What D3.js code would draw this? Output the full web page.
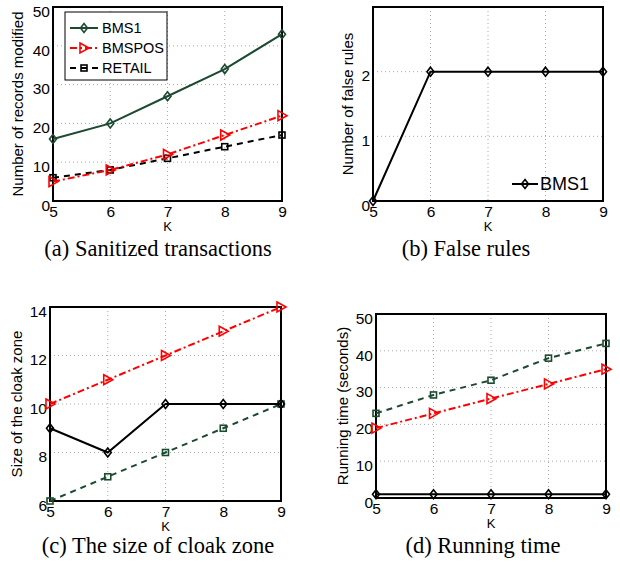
<!DOCTYPE html>
<html>
<head>
<meta charset="utf-8">
<script src="https://cdn.jsdelivr.net/npm/d3@7"></script>
<style>
  body { margin: 0; background: #fff; }
  svg text { font-family: "Liberation Sans", Arial, sans-serif; }
  svg text.cap { font-family: "Liberation Serif", "Times New Roman", serif; }
</style>
</head>
<body>
<svg id="chart" width="620" height="564"></svg>
<script>
const ks = [5, 6, 7, 8, 9];

// (a) sanitized transactions
const aBMS1 = [16, 20, 27, 34, 43];
const aBMSPOS = [5, 8, 12, 17, 22];
const aRETAIL = [6, 8, 11, 14, 17];
// (b) false rules
const bBMS1 = [0, 2, 2, 2, 2];
// (c) size of cloak zone
const cSolid = [9, 8, 10, 10, 10];
const cRed = [10, 11, 12, 13, 14];
const cGreen = [6, 7, 8, 9, 10];
// (d) running time
const dGreen = [23, 28, 32, 38, 42];
const dRed = [19, 23, 27, 31, 35];
const dBlack = [1, 1, 1, 1, 1];

const green = '#1b4a30', red = '#ff0000', black = '#000';

const styles = {
  bms1: { color: green, dash: null, marker: 'diamond' },
  bmspos: { color: red, dash: '7,3,2,3', marker: 'tri' },
  retail: { color: black, dash: '6,5', marker: 'square' },
  solid: { color: black, dash: null, marker: 'diamond' },
  greenDash: { color: green, dash: '6,5', marker: 'square' }
};

const svg = d3.select('#chart');

function drawMarker(g, type, x, y, color) {
  if (type === 'diamond') {
    g.append('path').attr('d', `M${x},${y-4.5}L${x+3.5},${y}L${x},${y+4.5}L${x-3.5},${y}Z`)
      .attr('fill', 'none').attr('stroke', color).attr('stroke-width', 1.6);
  } else if (type === 'tri') {
    g.append('path').attr('d', `M${x-4},${y-5}L${x+5},${y}L${x-4},${y+5}Z`)
      .attr('fill', 'none').attr('stroke', color).attr('stroke-width', 1.6);
  } else {
    g.append('rect').attr('x', x-3).attr('y', y-3).attr('width', 6).attr('height', 6)
      .attr('fill', 'none').attr('stroke', color).attr('stroke-width', 1.6);
  }
}

function panel(o) {
  const g = svg.append('g');
  const x = d3.scaleLinear().domain([5, 9]).range([o.left, o.right]);
  const y = d3.scaleLinear().domain(o.ydom).range([o.bottom, o.top]);

  // dotted grid
  g.selectAll('.vg').data([6, 7, 8]).join('line')
    .attr('x1', d => x(d)).attr('x2', d => x(d)).attr('y1', o.top).attr('y2', o.bottom)
    .attr('stroke', '#aaa').attr('stroke-dasharray', '1,3');
  g.selectAll('.hg').data(o.yticks.filter(t => t !== o.ydom[0] && t !== o.ydom[1])).join('line')
    .attr('x1', o.left).attr('x2', o.right).attr('y1', d => y(d)).attr('y2', d => y(d))
    .attr('stroke', '#aaa').attr('stroke-dasharray', '1,3');

  // axes
  const xa = g.append('g').attr('transform', `translate(0,${o.bottom})`)
    .call(d3.axisBottom(x).tickValues(ks).tickSize(0).tickPadding(5).tickFormat(d3.format('d')));
  const ya = g.append('g').attr('transform', `translate(${o.left},0)`)
    .call(d3.axisLeft(y).tickValues(o.yticks).tickSize(0).tickPadding(3).tickFormat(d3.format('d')));
  [xa, ya].forEach(a => {
    a.select('.domain').remove();
    a.selectAll('text').attr('font-size', 15.5).attr('fill', '#000')
      .attr('font-family', '"Liberation Sans", Arial, sans-serif');
  });
  ya.selectAll('text').attr('dy', '0.6em');

  g.append('rect').attr('x', o.left).attr('y', o.top)
    .attr('width', o.right - o.left).attr('height', o.bottom - o.top)
    .attr('fill', 'none').attr('stroke', '#000').attr('stroke-width', 2);

  // series
  const line = d3.line().x((d, i) => x(ks[i])).y(d => y(d));
  o.series.forEach(s => {
    const st = styles[s.style];
    g.append('path').datum(s.values).attr('d', line)
      .attr('fill', 'none').attr('stroke', st.color).attr('stroke-width', 2)
      .attr('stroke-dasharray', st.dash);
    s.values.forEach((v, i) => drawMarker(g, st.marker, x(ks[i]), y(v), st.color));
  });

  // labels
  g.append('text').attr('x', (o.left + o.right) / 2).attr('y', o.bottom + 30)
    .attr('text-anchor', 'middle').attr('font-size', 13).text('K');
  g.append('text').attr('transform', `translate(${o.left - o.yoff},${(o.top + o.bottom) / 2}) rotate(-90)`)
    .attr('text-anchor', 'middle').attr('font-size', 15).text(o.ylabel);
  g.append('text').attr('class', 'cap').attr('x', o.capX).attr('y', o.capY)
    .attr('text-anchor', 'middle').attr('font-size', 22.5).text(o.caption);
  return { g, x, y };
}

// (a)
const pa = panel({
  left: 53, right: 282, top: 7, bottom: 201, ydom: [0, 50], yticks: [0, 10, 20, 30, 40, 50],
  ylabel: 'Number of records modified', yoff: 30,
  caption: '(a) Sanitized transactions', capX: 158, capY: 256,
  series: [
    { values: aRETAIL, style: 'retail' },
    { values: aBMSPOS, style: 'bmspos' },
    { values: aBMS1, style: 'bms1' }
  ]
});
const legA = [['BMS1', 'bms1'], ['BMSPOS', 'bmspos'], ['RETAIL', 'retail']];
pa.g.append('rect').attr('x', 65).attr('y', 12).attr('width', 102).attr('height', 68)
  .attr('fill', '#fff').attr('stroke', '#000').attr('stroke-width', 1);
legA.forEach(([name, key], i) => {
  const st = styles[key];
  const yy = 28 + i * 20;
  pa.g.append('line').attr('x1', 70).attr('x2', 98).attr('y1', yy).attr('y2', yy)
    .attr('stroke', st.color).attr('stroke-width', 2).attr('stroke-dasharray', st.dash);
  drawMarker(pa.g, st.marker, 84, yy, st.color);
  pa.g.append('text').attr('x', 102).attr('y', yy + 5).attr('font-size', 14.5).text(name);
});

// (b)
const pb = panel({
  left: 373, right: 603, top: 7, bottom: 201, ydom: [0, 3], yticks: [0, 1, 2],
  ylabel: 'Number of false rules', yoff: 20,
  caption: '(b) False rules', capX: 466, capY: 256,
  series: [{ values: bBMS1, style: 'solid' }]
});
pb.g.append('line').attr('x1', 512).attr('x2', 538).attr('y1', 184).attr('y2', 184)
  .attr('stroke', black).attr('stroke-width', 2);
drawMarker(pb.g, 'diamond', 525, 184, black);
pb.g.append('text').attr('x', 540).attr('y', 190).attr('font-size', 18).text('BMS1');

// (c)
panel({
  left: 50, right: 281, top: 307, bottom: 501, ydom: [6, 14], yticks: [6, 8, 10, 12, 14],
  ylabel: 'Size of the cloak zone', yoff: 28,
  caption: '(c) The size of cloak zone', capX: 158, capY: 553,
  series: [
    { values: cGreen, style: 'greenDash' },
    { values: cRed, style: 'bmspos' },
    { values: cSolid, style: 'solid' }
  ]
});

// (d)
panel({
  left: 376, right: 606, top: 314, bottom: 498, ydom: [0, 50], yticks: [0, 10, 20, 30, 40, 50],
  ylabel: 'Running time (seconds)', yoff: 28,
  caption: '(d) Running time', capX: 483, capY: 553,
  series: [
    { values: dGreen, style: 'greenDash' },
    { values: dRed, style: 'bmspos' },
    { values: dBlack, style: 'solid' }
  ]
});
</script>
</body>
</html>
